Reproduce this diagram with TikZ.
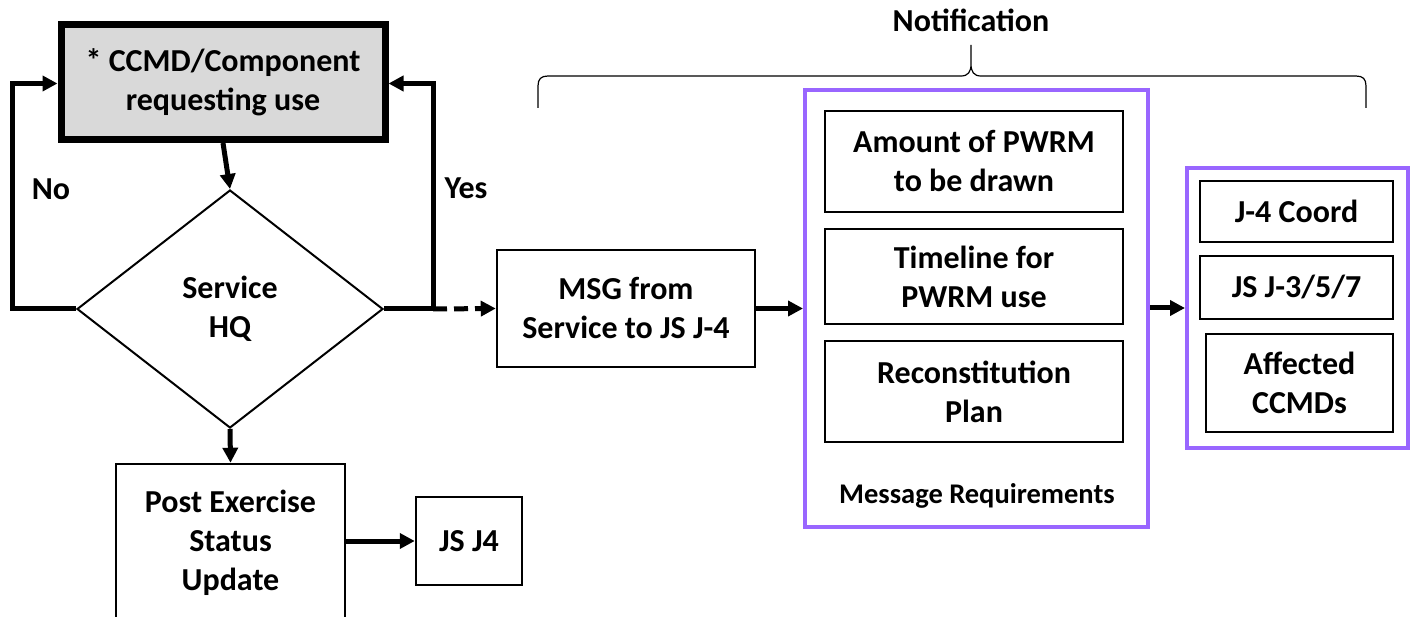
\documentclass[tikz,border=0pt]{standalone}
\usepackage{fontspec}
\setmainfont{Carlito}
\usetikzlibrary{arrows.meta,shapes.geometric,calc}
\definecolor{purp}{HTML}{9966FF}
\definecolor{topgray}{HTML}{D9D9D9}
\tikzset{
  txt/.style={font=\bfseries\fontsize{32}{39}\selectfont, align=center},
  box/.style={txt, draw, line width=2.5pt, inner sep=0pt},
  grp/.style={draw=purp, line width=4pt, inner sep=0pt},
  arr/.style={line width=5pt, -{Triangle[length=15pt,width=15pt]}},
  loopline/.style={line width=5pt, -{Triangle[length=15pt,width=15pt]}},
  dashline/.style={line width=5pt, dash pattern=on 14pt off 7pt, -{Triangle[length=15pt,width=15pt]}},
}
\begin{document}
\begin{tikzpicture}[x=1pt,y=-1pt]
\useasboundingbox (0,0) rectangle (1411,617);
\fill[white] (0,0) rectangle (1411,617);
\clip (0,0) rectangle (1411,617);

% top box
\node[box, line width=7pt, fill=topgray, minimum width=324pt, minimum height=115pt] (top) at (223,82) {* CCMD/Component\\requesting use};
% diamond
\node[txt, draw, diamond, line width=2pt, inner sep=0pt, minimum width=306pt, minimum height=238pt] (dia) at (230,309) {Service\\HQ};

\draw[arr] (top.south) -- (dia.north);

% No loop
\draw[loopline] (dia.west) -- ++(-64,0) |- ([yshift=-1.5pt]top.west);
% Yes loop
\coordinate (yc) at ($(dia.east)+(49,0)$);
\draw[loopline] (dia.east) -- (yc) |- ([yshift=-1.5pt]top.east);

\node[txt] (no) at (51,189) {No};
\node[txt] (yes) at (466,188) {Yes};

% MSG box
\node[box, minimum width=258pt, minimum height=117pt] (msg) at (626,308.5) {MSG from\\Service to JS J-4};
\draw[dashline] (yc) -- (msg.west);

% message requirements group
\node[grp, minimum width=343pt, minimum height=437pt] (grpA) at (976.5,308.5) {};
\node[box, minimum width=298pt, minimum height=101pt] (b1) at (974,161.5) {Amount of PWRM\\to be drawn};
\node[box, minimum width=298pt, minimum height=95pt] (b2) at (974,276.5) {Timeline for\\PWRM use};
\node[box, minimum width=298pt, minimum height=101pt] (b3) at (974,391.5) {Reconstitution\\Plan};
\node[font=\bfseries\fontsize{28.5}{34}\selectfont] (mr) at (977,496) {Message Requirements};

\draw[arr] (msg.east) -- (grpA.west |- msg.east);

% notification group
\node[grp, minimum width=221pt, minimum height=280pt] (grpB) at (1297.5,308) {};
\node[box, minimum width=193pt, minimum height=61pt] (c1) at (1296.5,211.5) {J-4 Coord};
\node[box, minimum width=193pt, minimum height=63pt] (c2) at (1296.5,287.5) {JS J-3/5/7};
\node[box, minimum width=187pt, minimum height=98pt] (c3) at (1299.5,383) {Affected\\CCMDs};

\draw[arr] (grpA.east |- grpB.west) -- (grpB.west);

% brace
\node[txt] (notif) at (971,20) {Notification};
\draw[line width=1.2pt]
  (538,108) -- (538,86) .. controls (538,79) and (541,76) .. (548,76)
  -- (961,76) .. controls (968,76) and (971,72) .. (971,64) -- (971,45)
  (971,64) .. controls (971,72) and (974,76) .. (981,76)
  -- (1356,76) .. controls (1363,76) and (1366,79) .. (1366,86) -- (1366,108);

% post exercise
\node[box, minimum width=229pt, minimum height=158pt] (post) at (230.5,543) {Post Exercise\\Status\\Update};
\draw[arr] (dia.south) -- (post.north);
\node[box, minimum width=106pt, minimum height=88pt] (js4) at (469,541) {JS J4};
\draw[arr] (post.east |- js4.west) -- (js4.west);
\end{tikzpicture}
\end{document}
